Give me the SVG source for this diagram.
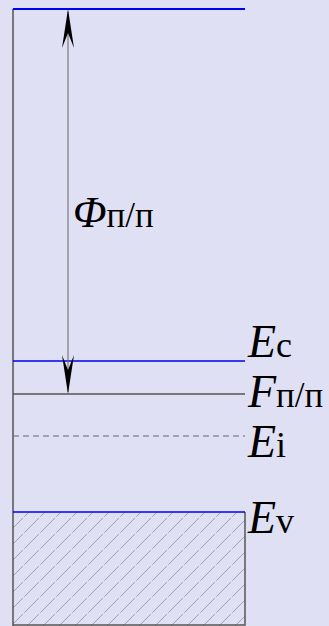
<svg xmlns="http://www.w3.org/2000/svg" width="329" height="626" viewBox="0 0 329 626">
<defs>
<style>
.lbl{font-family:"Liberation Serif","Times New Roman","DejaVu Serif",serif;fill:#000}
.it{font-style:italic}
.blue{stroke:#0000f0;stroke-width:2;fill:none}
.gray{stroke:#555;stroke-width:1.5;fill:none}
.hatch{stroke:#777;stroke-width:0.6;stroke-dasharray:14 2}
.head{fill:#000}
</style>
<pattern id="hp" patternUnits="userSpaceOnUse" width="16" height="16" x="13" y="512">
<line x1="0" y1="16" x2="16" y2="0" class="hatch"/>
<line x1="-16" y1="16" x2="0" y2="0" class="hatch"/>
<line x1="16" y1="16" x2="32" y2="0" class="hatch"/>
</pattern>
</defs>
<rect width="329" height="626" fill="#e0e0f5"/>
<g id="valence-band">
<rect x="13" y="512" width="232" height="114" fill="url(#hp)" stroke="none"/>
<path d="M245,512 V625 H13" class="gray"/>
</g>
<g id="left-axis"><line x1="13" y1="9" x2="13" y2="626" class="gray"/></g>
<g id="vacuum-level"><line x1="13" y1="9" x2="245" y2="9" class="blue"/></g>
<g id="Ec"><line x1="13" y1="361" x2="245" y2="361" class="blue" style="stroke-width:1.5"/>
<text x="248" y="357" class="lbl"><tspan class="it" font-size="46">E</tspan><tspan font-size="36">c</tspan></text></g>
<g id="F"><line x1="13" y1="394" x2="245" y2="394" class="gray"/>
<text x="248" y="407" class="lbl"><tspan class="it" font-size="46">F</tspan><tspan font-size="35">п/п</tspan></text></g>
<g id="Ei"><line x1="13" y1="436" x2="245" y2="436" stroke="#666" stroke-width="1" stroke-dasharray="6 4"/>
<text x="248" y="457" class="lbl"><tspan class="it" font-size="46">E</tspan><tspan font-size="36">i</tspan></text></g>
<g id="Ev"><line x1="13" y1="512" x2="245" y2="512" class="blue" style="stroke-width:1.5"/>
<text x="248" y="533" class="lbl"><tspan class="it" font-size="46">E</tspan><tspan font-size="36">v</tspan></text></g>
<g id="connectors">
<line x1="68" y1="12" x2="68" y2="392" stroke="#666" stroke-width="1"/>
<path class="head" d="M68,9 L74,48 L68,33 L62,48 Z"/>
<path class="head" d="M68,394 L62,355 L68,370 L74,355 Z"/>
</g>
<g id="phi-label"><text x="73" y="227" class="lbl"><tspan class="it" font-size="44">Φ</tspan><tspan font-size="35">п/п</tspan></text></g>
</svg>
